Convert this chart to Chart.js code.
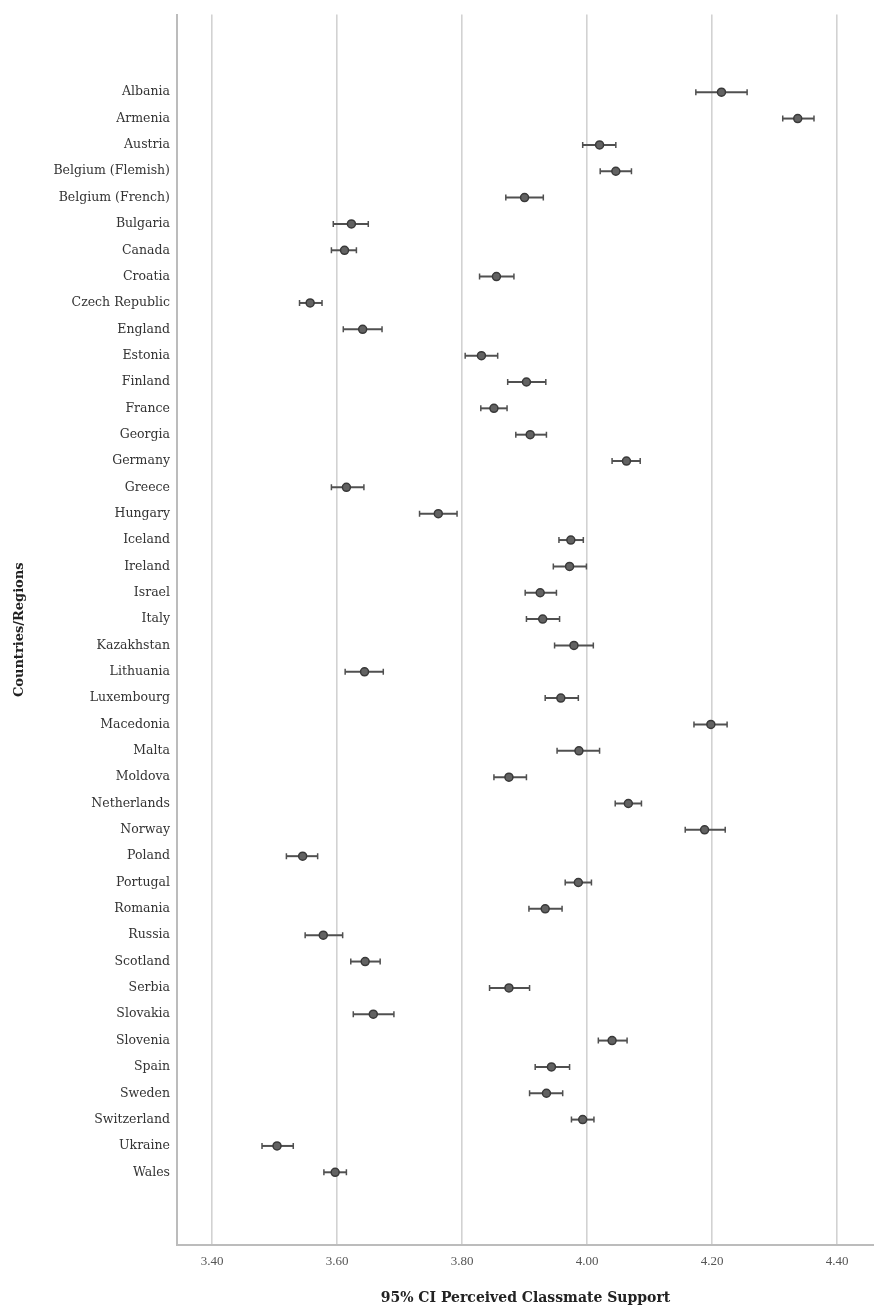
<!DOCTYPE html>
<html>
<head>
<meta charset="utf-8">
<title>Perceived Classmate Support</title>
<script src="https://cdn.jsdelivr.net/npm/chart.js@4.4.1/dist/chart.umd.min.js"></script>
<style>
  html, body { margin: 0; padding: 0; background: #ffffff; }
  #wrap { width: 874px; height: 1307px; }
</style>
</head>
<body>
<div id="wrap"><canvas id="chart" width="874" height="1307"></canvas></div>
<script>
// Countries / regions, top to bottom
const categories = [
  'Albania', 'Armenia', 'Austria', 'Belgium (Flemish)', 'Belgium (French)', 'Bulgaria',
  'Canada', 'Croatia', 'Czech Republic', 'England', 'Estonia', 'Finland', 'France',
  'Georgia', 'Germany', 'Greece', 'Hungary', 'Iceland', 'Ireland', 'Israel', 'Italy',
  'Kazakhstan', 'Lithuania', 'Luxembourg', 'Macedonia', 'Malta', 'Moldova',
  'Netherlands', 'Norway', 'Poland', 'Portugal', 'Romania', 'Russia', 'Scotland',
  'Serbia', 'Slovakia', 'Slovenia', 'Spain', 'Sweden', 'Switzerland', 'Ukraine', 'Wales'
];

// Mean perceived classmate support
const meanScores = [
  4.215, 4.337, 4.020, 4.046, 3.900, 3.623,
  3.612, 3.855, 3.557, 3.641, 3.831, 3.903, 3.851,
  3.909, 4.063, 3.615, 3.762, 3.974, 3.972, 3.925, 3.929,
  3.979, 3.644, 3.958, 4.198, 3.987, 3.875,
  4.066, 4.188, 3.545, 3.986, 3.933, 3.578, 3.645,
  3.875, 3.658, 4.040, 3.943, 3.935, 3.993, 3.504, 3.597
];

// 95% confidence interval bounds
const ciLower = [
  4.174, 4.313, 3.993, 4.021, 3.870, 3.594,
  3.591, 3.828, 3.540, 3.610, 3.805, 3.873, 3.830,
  3.886, 4.040, 3.591, 3.732, 3.955, 3.946, 3.901, 3.903,
  3.948, 3.613, 3.933, 4.171, 3.952, 3.851,
  4.045, 4.157, 3.519, 3.965, 3.907, 3.549, 3.622,
  3.844, 3.626, 4.018, 3.917, 3.908, 3.975, 3.480, 3.579
];
const ciUpper = [
  4.256, 4.363, 4.046, 4.071, 3.930, 3.650,
  3.631, 3.883, 3.576, 3.672, 3.857, 3.934, 3.872,
  3.935, 4.085, 3.643, 3.792, 3.994, 3.999, 3.951, 3.956,
  4.010, 3.674, 3.986, 4.224, 4.020, 3.903,
  4.087, 4.221, 3.569, 4.007, 3.960, 3.609, 3.669,
  3.908, 3.691, 4.064, 3.972, 3.961, 4.011, 3.530, 3.615
];

// Value-axis tick marks
const xTickValues = [3.40, 3.60, 3.80, 4.00, 4.20, 4.40];

const serif = "'DejaVu Serif', 'Liberation Serif', serif";

// Horizontal CI whiskers with end caps, drawn beneath the mean markers
const ciWhiskers = {
  id: 'ciWhiskers',
  beforeDatasetsDraw(chart) {
    const ctx = chart.ctx;
    const xs = chart.scales.x;
    const ys = chart.scales.y;
    ctx.save();
    ctx.strokeStyle = '#505050';
    categories.forEach((name, i) => {
      const y = ys.getPixelForValue(i);
      const x1 = xs.getPixelForValue(ciLower[i]);
      const x2 = xs.getPixelForValue(ciUpper[i]);
      ctx.lineWidth = 2;
      ctx.beginPath();
      ctx.moveTo(x1, y);
      ctx.lineTo(x2, y);
      ctx.stroke();
      ctx.lineWidth = 1.5;
      ctx.beginPath();
      ctx.moveTo(x1, y - 3);
      ctx.lineTo(x1, y + 3);
      ctx.moveTo(x2, y - 3);
      ctx.lineTo(x2, y + 3);
      ctx.stroke();
    });
    ctx.restore();
  }
};

new Chart(document.getElementById('chart'), {
  type: 'scatter',
  data: {
    datasets: [{
      label: 'Mean',
      data: categories.map((name, i) => ({ x: meanScores[i], y: i })),
      pointRadius: 4,
      pointHoverRadius: 4,
      backgroundColor: '#626262',
      borderColor: '#3a3a3a',
      borderWidth: 1.5
    }]
  },
  options: {
    responsive: false,
    animation: false,
    layout: { autoPadding: false, padding: { top: 5, right: 0, left: 0, bottom: 0 } },
    plugins: {
      legend: { display: false },
      tooltip: { enabled: false }
    },
    scales: {
      x: {
        type: 'linear',
        position: 'bottom',
        min: 3.344,
        max: 4.459,
        afterBuildTicks(axis) {
          axis.ticks = xTickValues.map(v => ({ value: v }));
        },
        afterFit(axis) { axis.height = 62; },
        ticks: {
          color: '#555555',
          padding: 9,
          font: { family: "'Liberation Serif', serif", size: 13 },
          callback: v => Number(v).toFixed(2)
        },
        grid: { color: '#d2d2d2', lineWidth: 1.6, drawTicks: false },
        border: { display: true, color: '#bcbcbc', width: 2 },
        title: {
          display: true,
          text: '95% CI Perceived Classmate Support',
          color: '#222222',
          font: { family: serif, size: 14, weight: 'bold' },
          padding: { top: 10, bottom: 0 }
        }
      },
      y: {
        type: 'linear',
        reverse: true,
        min: -2.95,
        max: 43.76,
        afterBuildTicks(axis) {
          axis.ticks = categories.map((name, i) => ({ value: i }));
        },
        afterFit(axis) { axis.width = 177; },
        ticks: {
          autoSkip: false,
          color: '#333333',
          padding: 7,
          font: { family: serif, size: 12.5 },
          callback: v => categories[v]
        },
        grid: { display: false, drawTicks: false },
        border: { display: true, color: '#bcbcbc', width: 2 },
        title: {
          display: true,
          text: 'Countries/Regions',
          color: '#222222',
          font: { family: serif, size: 13, weight: 'bold' },
          padding: { top: 12, bottom: 8 }
        }
      }
    }
  },
  plugins: [ciWhiskers]
});
</script>
</body>
</html>
